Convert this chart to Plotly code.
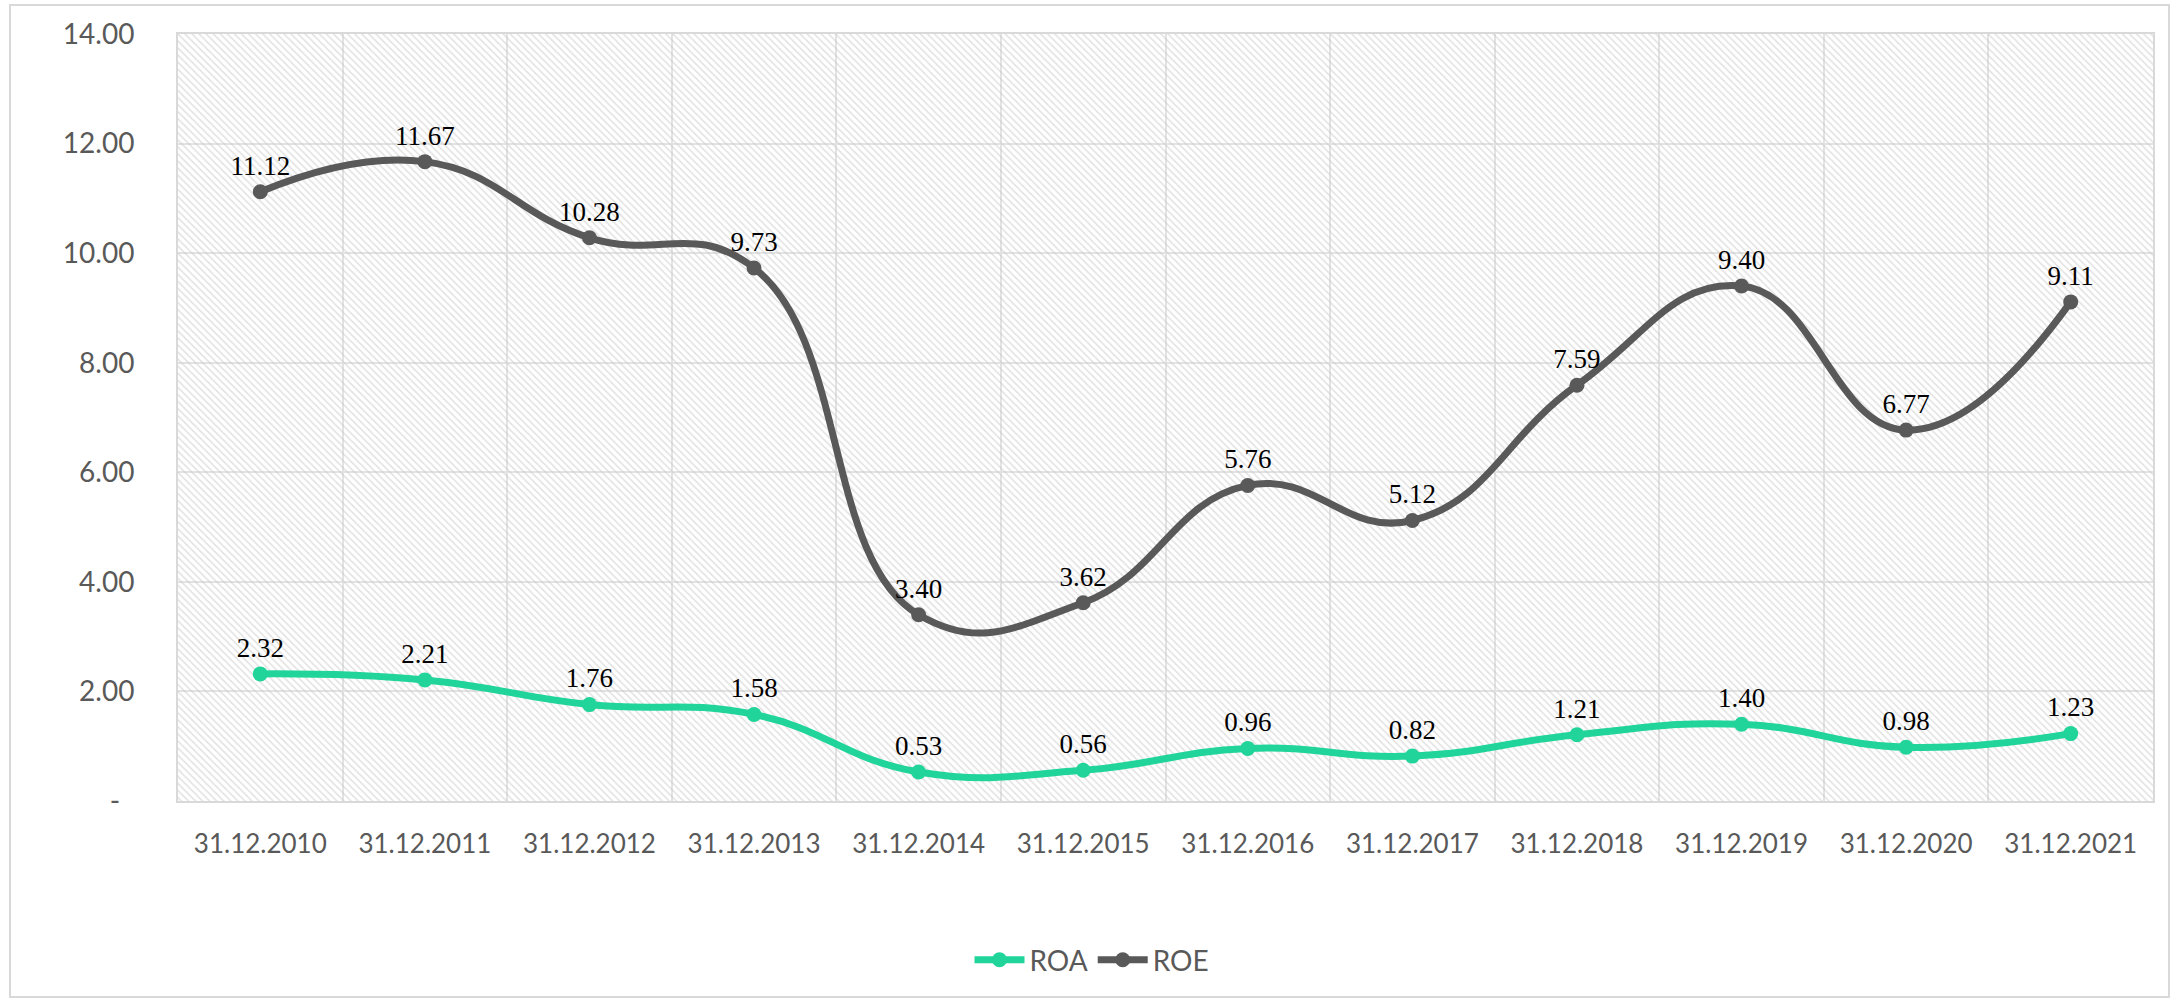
import plotly.graph_objects as go

categories = ["31.12.2010", "31.12.2011", "31.12.2012", "31.12.2013", "31.12.2014", "31.12.2015",
              "31.12.2016", "31.12.2017", "31.12.2018", "31.12.2019", "31.12.2020", "31.12.2021"]
roa = [2.32, 2.21, 1.76, 1.58, 0.53, 0.56, 0.96, 0.82, 1.21, 1.40, 0.98, 1.23]
roe = [11.12, 11.67, 10.28, 9.73, 3.40, 3.62, 5.76, 5.12, 7.59, 9.40, 6.77, 9.11]
y_tickvals = [0, 2, 4, 6, 8, 10, 12, 14]
y_ticktext = ["-\u00a0\u00a0", "2.00", "4.00", "6.00", "8.00", "10.00", "12.00", "14.00"]

W, H = 2180, 998
L, R, T, B = 178, 27, 34, 197
pw, ph = W - L - R, H - T - B
YMAX = 14

ROA_C = "#20D49A"
ROE_C = "#595959"
GRAY = "#595959"

fig = go.Figure()

# hatched plot background (decorative)
fig.add_trace(go.Bar(
    x=categories, y=[YMAX] * len(categories), width=1,
    marker=dict(color="rgba(0,0,0,0)", line=dict(width=0),
                pattern=dict(shape="\\", fgcolor="#c4c4c4", bgcolor="rgba(0,0,0,0)",
                             size=5, solidity=0.3)),
    hoverinfo="skip", showlegend=False))

for name, vals, col in [("ROA", roa, ROA_C), ("ROE", roe, ROE_C)]:
    fig.add_trace(go.Scatter(
        x=categories, y=vals, name=name, mode="lines+markers+text",
        line=dict(color=col, width=7, shape="spline", smoothing=1.3),
        marker=dict(color=col, size=15),
        text=[f"{v:.2f}" for v in vals], textposition="top center",
        textfont=dict(family="Liberation Serif", size=27, color="#000000"),
        cliponaxis=False))

fig.update_layout(
    width=W, height=H,
    margin=dict(l=L, r=R, t=T, b=B),
    paper_bgcolor="white", plot_bgcolor="white",
    bargap=0,
    font=dict(family="Lato", color=GRAY, size=26),
    showlegend=True,
    legend=dict(orientation="h", x=(1092 - L) / pw, xanchor="center",
                y=(T + ph - 960) / ph, yanchor="middle",
                font=dict(family="Lato", size=28, color=GRAY),
                itemwidth=50, traceorder="normal"),
    shapes=[dict(type="rect", xref="paper", yref="paper",
                 x0=(10 - L) / pw, x1=(2169 - L) / pw,
                 y0=(T + ph - 997) / ph, y1=(T + ph - 5) / ph,
                 line=dict(color="#d9d9d9", width=2), fillcolor="rgba(0,0,0,0)", layer="below")],
)

fig.update_xaxes(
    type="category", range=[-0.5, len(categories) - 0.5],
    showgrid=True, gridcolor="#e3e3e3", gridwidth=2, tickson="boundaries",
    ticks="", showline=True, linecolor="#d9d9d9", linewidth=2, mirror=True,
    tickfont=dict(family="Lato", size=26, color=GRAY), ticklabelstandoff=19,
    zeroline=False)
fig.update_yaxes(
    range=[0, YMAX], tickvals=y_tickvals, ticktext=y_ticktext,
    showgrid=True, gridcolor="#e3e3e3", gridwidth=2,
    ticks="", showline=True, linecolor="#d9d9d9", linewidth=2, mirror=True,
    tickfont=dict(family="Lato", size=28, color=GRAY), ticklabelstandoff=36,
    zeroline=False)

fig.write_html("out.html", config={"displayModeBar": False},
               post_script="document.body.style.margin='0';document.body.style.overflow='hidden';")
